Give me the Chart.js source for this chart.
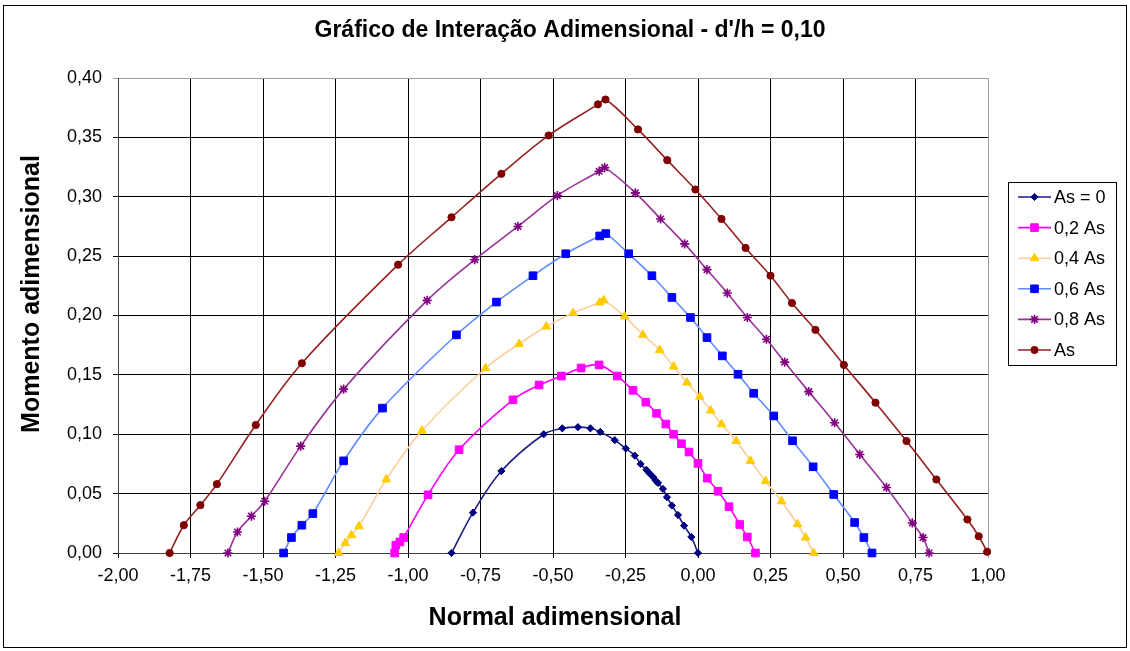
<!DOCTYPE html>
<html>
<head>
<meta charset="utf-8">
<title>Gráfico de Interação Adimensional</title>
<script src="https://cdn.jsdelivr.net/npm/chart.js@4/dist/chart.umd.min.js"></script>
<style>
  html, body { margin: 0; padding: 0; background: #fff; }
  canvas { display: block; }
</style>
</head>
<body>
<canvas id="chart" width="1130" height="651"></canvas>
<script>
// Interaction diagram: normal force (x) vs bending moment (y), dimensionless
const chartTitle = "Gráfico de Interação Adimensional - d'/h = 0,10";
const xAxisTitle = 'Normal adimensional';
const yAxisTitle = 'Momento adimensional';

const seriesNames = ['As = 0', '0,2 As', '0,4 As', '0,6 As', '0,8 As', 'As'];

// As = 0
const n0 = [-0.850, -0.776, -0.678, -0.532, -0.468, -0.414, -0.371, -0.337, -0.287, -0.249, -0.218, -0.198, -0.178, -0.167, -0.155, -0.146, -0.138, -0.121, -0.107, -0.090, -0.069, -0.048, -0.023, 0.000];
const m0 = [0.000, 0.034, 0.069, 0.100, 0.105, 0.106, 0.105, 0.102, 0.095, 0.088, 0.082, 0.075, 0.070, 0.067, 0.064, 0.061, 0.059, 0.054, 0.047, 0.040, 0.032, 0.023, 0.0135, 0.000];

// 0,2 As
const n2 = [-1.046, -1.042, -1.028, -1.015, -0.931, -0.824, -0.638, -0.548, -0.471, -0.403, -0.341, -0.278, -0.224, -0.180, -0.143, -0.111, -0.084, -0.057, -0.031, 0.000, 0.032, 0.069, 0.107, 0.144, 0.170, 0.198];
const m2 = [0.000, 0.0065, 0.0093, 0.013, 0.049, 0.087, 0.129, 0.1415, 0.149, 0.1558, 0.1584, 0.149, 0.137, 0.127, 0.1176, 0.1086, 0.100, 0.092, 0.085, 0.0754, 0.063, 0.052, 0.039, 0.024, 0.0135, 0.000];

// 0,4 As
const n4 = [-1.239, -1.216, -1.195, -1.169, -1.075, -0.952, -0.733, -0.617, -0.523, -0.431, -0.339, -0.325, -0.253, -0.190, -0.132, -0.084, -0.038, 0.006, 0.044, 0.081, 0.132, 0.181, 0.233, 0.288, 0.343, 0.371, 0.399];
const m4 = [0.000, 0.0084, 0.015, 0.0225, 0.062, 0.103, 0.1556, 0.176, 0.1907, 0.202, 0.211, 0.2127, 0.1992, 0.1837, 0.171, 0.157, 0.1435, 0.1316, 0.120, 0.1084, 0.0943, 0.0776, 0.0605, 0.0436, 0.0242, 0.013, 0.000];

// 0,6 As
const n6 = [-1.429, -1.402, -1.366, -1.328, -1.222, -1.088, -0.833, -0.695, -0.569, -0.456, -0.339, -0.318, -0.239, -0.159, -0.090, -0.026, 0.031, 0.084, 0.138, 0.192, 0.261, 0.326, 0.397, 0.468, 0.540, 0.572, 0.600];
const m6 = [0.000, 0.013, 0.0234, 0.0332, 0.0776, 0.122, 0.1837, 0.2113, 0.2335, 0.252, 0.267, 0.269, 0.252, 0.2335, 0.2152, 0.1983, 0.1814, 0.166, 0.1505, 0.1345, 0.1154, 0.0945, 0.0726, 0.0493, 0.0257, 0.013, 0.000];

// 0,8 As
const n8 = [-1.621, -1.588, -1.540, -1.494, -1.370, -1.222, -0.934, -0.770, -0.621, -0.485, -0.341, -0.322, -0.216, -0.129, -0.046, 0.031, 0.101, 0.170, 0.236, 0.299, 0.382, 0.471, 0.558, 0.650, 0.739, 0.776, 0.797];
const m8 = [0.000, 0.0177, 0.031, 0.0436, 0.090, 0.138, 0.2127, 0.247, 0.275, 0.301, 0.3215, 0.3245, 0.3033, 0.2813, 0.2603, 0.2386, 0.2189, 0.1983, 0.180, 0.1607, 0.1359, 0.1097, 0.083, 0.0552, 0.0253, 0.013, 0.000];

// As
const n10 = [-1.822, -1.773, -1.716, -1.659, -1.525, -1.366, -1.034, -0.850, -0.678, -0.515, -0.345, -0.319, -0.207, -0.106, -0.009, 0.081, 0.164, 0.250, 0.324, 0.405, 0.503, 0.612, 0.719, 0.822, 0.929, 0.968, 0.997];
const m10 = [0.000, 0.0234, 0.0403, 0.058, 0.1078, 0.1598, 0.2428, 0.2827, 0.3193, 0.3516, 0.3778, 0.3819, 0.3567, 0.3308, 0.3061, 0.2813, 0.2569, 0.2335, 0.2105, 0.1879, 0.1584, 0.1266, 0.0943, 0.0619, 0.0282, 0.0141, 0.001];

// Axis ranges and tick steps
const xMin = -2.0, xMax = 1.0, xStep = 0.25;
const yMin = 0.0, yMax = 0.40, yStep = 0.05;

const FONT = "'Liberation Sans', Arial, Helvetica, sans-serif";

function pts(xs, ys) { return xs.map((x, i) => ({ x: x, y: ys[i] })); }
function fmt(v) { if (Math.abs(v) < 1e-9) v = 0; return v.toFixed(2).replace('.', ','); }

const styles = [
  { line: '#1c1c84', mark: '#000080', shape: 'rectRot',  r: 3.6 },
  { line: '#ff00ff', mark: '#ff00ff', shape: 'rect',     r: 5.4 },
  { line: '#ffcc99', mark: '#ffcc00', shape: 'triangle', r: 5.0 },
  { line: '#5f8cff', mark: '#0000ff', shape: 'rect',     r: 5.4 },
  { line: '#993399', mark: '#800080', shape: 'star',     r: 4.6 },
  { line: '#962020', mark: '#800000', shape: 'circle',   r: 3.6 }
];
const seriesX = [n0, n2, n4, n6, n8, n10];
const seriesY = [m0, m2, m4, m6, m8, m10];

const datasets = seriesNames.map((name, i) => ({
  label: name,
  data: pts(seriesX[i], seriesY[i]),
  showLine: true,
  tension: 0.35,
  borderColor: styles[i].line,
  borderWidth: 1.6,
  pointStyle: styles[i].shape,
  pointRadius: styles[i].r,
  pointBackgroundColor: styles[i].mark,
  pointBorderColor: styles[i].mark,
  pointBorderWidth: styles[i].shape === 'star' ? 1.6 : 1,
  clip: 12
}));

// Frame, titles and legend box drawn on the canvas
const decorations = {
  id: 'decorations',
  beforeDraw(chart) {
    const ctx = chart.ctx;
    ctx.save();
    ctx.fillStyle = '#ffffff';
    ctx.fillRect(0, 0, chart.width, chart.height);
    ctx.restore();
  },
  afterDraw(chart) {
    const ctx = chart.ctx;
    const area = chart.chartArea;
    ctx.save();
    // outer frame
    ctx.strokeStyle = '#000';
    ctx.lineWidth = 1;
    ctx.strokeRect(3.5, 5.5, 1123, 642);

    // main title
    ctx.fillStyle = '#000';
    ctx.textAlign = 'center';
    ctx.textBaseline = 'middle';
    ctx.font = 'bold 23px ' + FONT;
    ctx.fillText(chartTitle, 570, 31);

    // axis titles
    ctx.font = 'bold 25px ' + FONT;
    ctx.fillText(xAxisTitle, (area.left + area.right) / 2 + 2, 618);
    ctx.save();
    ctx.translate(32, 294);
    ctx.rotate(-Math.PI / 2);
    ctx.fillText(yAxisTitle, 0, 0);
    ctx.restore();

    // legend
    const lx = 1008.5, ly = 182.5, lw = 108, lh = 183;
    ctx.fillStyle = '#fff';
    ctx.fillRect(lx, ly, lw, lh);
    ctx.strokeStyle = '#000';
    ctx.lineWidth = 1;
    ctx.strokeRect(lx, ly, lw, lh);
    ctx.font = '18px ' + FONT;
    ctx.textAlign = 'left';
    chart.data.datasets.forEach((ds, i) => {
      const y = 197 + i * 30.6;
      ctx.strokeStyle = ds.borderColor;
      ctx.lineWidth = 1.6;
      ctx.beginPath();
      ctx.moveTo(1018, y);
      ctx.lineTo(1051, y);
      ctx.stroke();
      ctx.fillStyle = ds.pointBackgroundColor;
      ctx.strokeStyle = ds.pointBorderColor;
      ctx.lineWidth = ds.pointBorderWidth;
      if (Chart.helpers && Chart.helpers.drawPoint) {
        Chart.helpers.drawPoint(ctx, {
          pointStyle: ds.pointStyle, radius: ds.pointRadius, rotation: 0, borderWidth: ds.pointBorderWidth
        }, 1034.5, y);
      } else {
        ctx.beginPath();
        ctx.arc(1034.5, y, ds.pointRadius * 0.8, 0, Math.PI * 2);
        ctx.fill();
      }
      ctx.fillStyle = '#000';
      ctx.fillText(ds.label, 1054, y + 1);
    });
    ctx.restore();
  }
};

new Chart(document.getElementById('chart'), {
  type: 'scatter',
  data: { datasets: datasets },
  plugins: [decorations],
  options: {
    responsive: false,
    animation: false,
    devicePixelRatio: 1,
    layout: { padding: { left: 0, right: 142, top: 78, bottom: 0 } },
    plugins: {
      legend: { display: false },
      title: { display: false },
      tooltip: { enabled: false }
    },
    scales: {
      x: {
        type: 'linear',
        min: xMin, max: xMax,
        afterFit(scale) { scale.height = 98; },
        ticks: {
          stepSize: xStep,
          autoSkip: false,
          maxRotation: 0,
          padding: 7,
          color: '#000',
          font: { family: FONT, size: 18 },
          callback: (v) => fmt(v)
        },
        grid: {
          color: (c) => (c.tick && c.tick.value > xMax - 1e-6) ? '#a0a0a0' : '#000',
          lineWidth: 1,
          tickLength: 5
        },
        border: { display: true, color: '#404040', width: 1 }
      },
      y: {
        type: 'linear',
        min: yMin, max: yMax,
        afterFit(scale) { scale.width = 118; },
        ticks: {
          stepSize: yStep,
          padding: 11,
          color: '#000',
          font: { family: FONT, size: 18 },
          callback: (v) => fmt(v)
        },
        grid: {
          color: (c) => (c.tick && c.tick.value > yMax - 1e-6) ? '#a0a0a0' : '#000',
          lineWidth: 1,
          tickLength: 5
        },
        border: { display: true, color: '#404040', width: 1 }
      }
    }
  }
});
</script>
</body>
</html>
